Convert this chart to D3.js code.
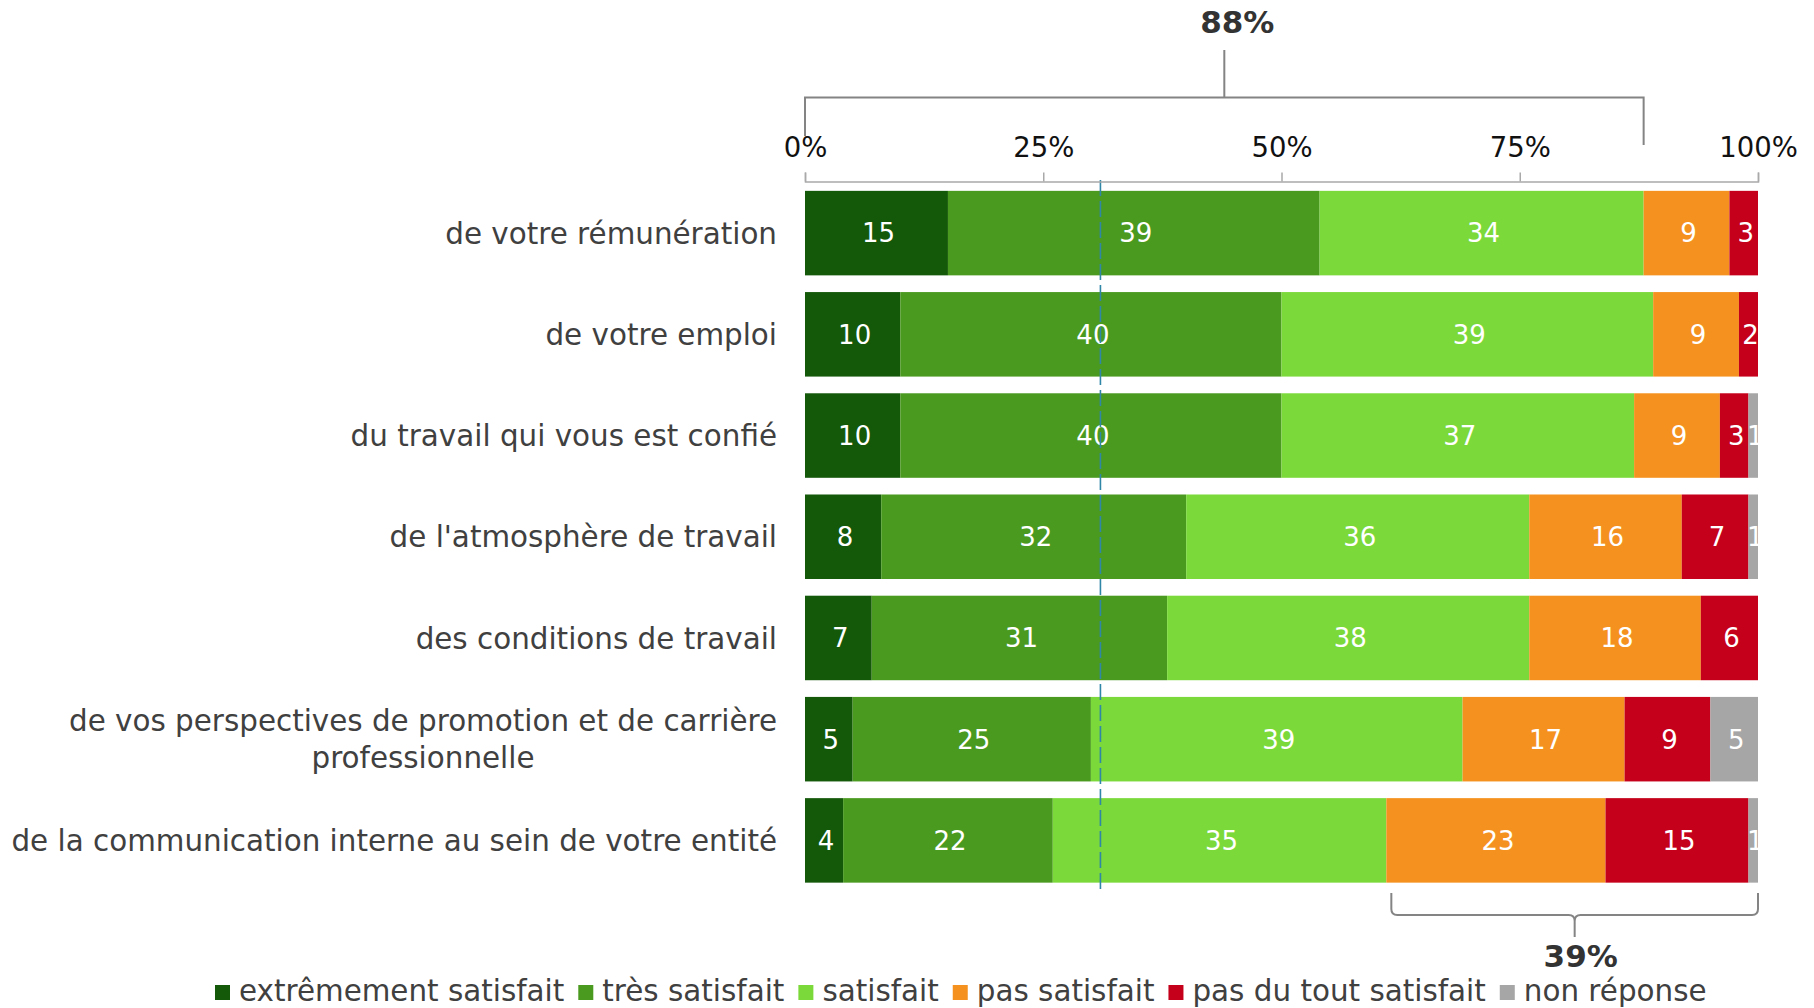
<!DOCTYPE html>
<meta charset="utf-8">
<head>
	<title>Satisfaction</title>
</head>
<style>
	body { margin: 0; background: #fff; }
	text { font-family: "DejaVu Sans", Verdana, sans-serif; }
</style>
<body>
	<svg width="1814" height="1008"></svg>
	<script src="https://cdnjs.cloudflare.com/ajax/libs/d3/7.8.5/d3.min.js"></script>
	<script>
		// row labels (a "\n" splits a label over two lines)
		var categories = [
			"de votre rémunération",
			"de votre emploi",
			"du travail qui vous est confié",
			"de l'atmosphère de travail",
			"des conditions de travail",
			"de vos perspectives de promotion et de carrière\nprofessionnelle",
			"de la communication interne au sein de votre entité"
		];

		var seriesNames = ["extrêmement satisfait", "très satisfait", "satisfait",
			"pas satisfait", "pas du tout satisfait", "non réponse"];

		// values, in %, one array per answer
		var extremement = [15, 10, 10, 8, 7, 5, 4];
		var tres = [39, 40, 40, 32, 31, 25, 22];
		var satisfait = [34, 39, 37, 36, 38, 39, 35];
		var pasSatisfait = [9, 9, 9, 16, 18, 17, 23];
		var pasDuTout = [3, 2, 3, 7, 6, 9, 15];
		var nonReponse = [0, 0, 1, 1, 0, 5, 1];

		var tickValues = [0, 25, 50, 75, 100];
		var referenceValue = 31;   // dashed vertical line
		var topBracket = {from: 0, to: 88, label: "88%"};
		var bottomBracket = {from: 61, to: 100, label: "39%"};

		var colors = ["#14580a", "#4a9a20", "#7bd93a", "#f5921f", "#c5001a", "#a6a6a6"];

		var svg = d3.select("svg");

		var series = [extremement, tres, satisfait, pasSatisfait, pasDuTout, nonReponse];

		var rows = categories.map(function(c, i) {
			var r = {cat: c};
			seriesNames.forEach(function(s, j) { r[s] = series[j][i]; });
			return r;
		});

		var stacked = d3.stack().keys(seriesNames)(rows);

		var x = d3.scaleLinear().domain([0, 100]).range([805, 1758]);
		var y = d3.scaleBand().domain(categories).range([182.5, 891])
			.paddingInner(0.165).paddingOuter(0.0825);
		var color = d3.scaleOrdinal().domain(seriesNames).range(colors);

		// clip for value labels that run past 100%
		svg.append("defs").append("clipPath").attr("id", "plot")
			.append("rect").attr("x", x(0)).attr("y", 0)
			.attr("width", x(100) - x(0)).attr("height", 1008);

		// bars
		var layers = svg.append("g").selectAll("g")
			.data(stacked)
			.enter().append("g")
			.attr("fill", function(d) { return color(d.key); });

		layers.selectAll("rect")
			.data(function(d) { return d; })
			.enter().append("rect")
			.attr("x", function(d) { return x(d[0]); })
			.attr("y", function(d) { return y(d.data.cat); })
			.attr("width", function(d) { return x(d[1]) - x(d[0]); })
			.attr("height", y.bandwidth());

		// value labels
		var labels = svg.append("g").attr("clip-path", "url(#plot)");
		stacked.forEach(function(layer) {
			layer.forEach(function(d) {
				var v = d[1] - d[0];
				if (v <= 0) return;
				labels.append("text")
					.attr("x", (x(d[0]) + x(d[1])) / 2 + 2)
					.attr("y", y(d.data.cat) + y.bandwidth() / 2)
					.attr("dy", "0.36em")
					.attr("text-anchor", "middle")
					.attr("fill", "#fff")
					.style("font-size", "26px")
					.text(v);
			});
		});

		// dashed reference line
		svg.append("line")
			.attr("x1", x(referenceValue)).attr("x2", x(referenceValue))
			.attr("y1", 180).attr("y2", 893)
			.attr("stroke", "#2f86a6")
			.attr("stroke-width", 1.6)
			.attr("stroke-dasharray", "16,5");

		// axis on top
		var xAxis = d3.axisTop(x)
			.tickValues(tickValues)
			.tickSize(9)
			.tickPadding(16)
			.tickFormat(function(d) { return d + "%"; });

		var ax = svg.append("g")
			.attr("transform", "translate(0,181.5)")
			.call(xAxis);
		ax.select(".domain").attr("stroke", "#a9a9a9").attr("stroke-width", 1.5);
		ax.selectAll(".tick line").attr("stroke", "#a9a9a9").attr("stroke-width", 1.5);
		ax.selectAll(".tick text")
			.attr("fill", "#111")
			.style("font-size", "27.5px")
			.style("font-family", "'DejaVu Sans', Verdana, sans-serif");

		// category labels, right aligned; two line labels centred as a block
		var labelRight = 777;
		categories.forEach(function(c) {
			var lines = c.split("\n");
			var cy = y(c) + y.bandwidth() / 2;
			var t = svg.append("text")
				.attr("fill", "#404040")
				.style("font-size", "29.4px");
			if (lines.length == 1) {
				t.attr("x", labelRight).attr("y", cy).attr("dy", "0.36em")
					.attr("text-anchor", "end").text(c);
			} else {
				t.attr("text-anchor", "middle");
				var spans = lines.map(function(l, i) {
					return t.append("tspan")
						.attr("y", cy + (i - (lines.length - 1) / 2) * 37)
						.attr("dy", "0.36em")
						.text(l);
				});
				var w = d3.max(spans, function(s) { return s.node().getComputedTextLength(); });
				spans.forEach(function(s) { s.attr("x", labelRight - w / 2); });
			}
		});

		// top bracket (square)
		var gray = "#848484";
		var tx0 = x(topBracket.from), tx1 = x(topBracket.to), tmid = (tx0 + tx1) / 2;
		svg.append("path")
			.attr("d", "M" + tx0 + ",136 V97.5 H" + tx1 + " V145 M" + tmid + ",97.5 V50")
			.attr("fill", "none").attr("stroke", gray).attr("stroke-width", 2);
		svg.append("text")
			.attr("x", tmid + 13).attr("y", 33)
			.attr("text-anchor", "middle")
			.attr("fill", "#333")
			.style("font-size", "31px").style("font-weight", "bold")
			.text(topBracket.label);

		// bottom bracket (curly)
		var bx0 = x(bottomBracket.from) + 5, bx1 = x(bottomBracket.to), bmid = (bx0 + bx1) / 2;
		var by0 = 893, by1 = 915, r = 6;
		svg.append("path")
			.attr("d",
				"M" + bx0 + "," + by0 + " V" + (by1 - r) +
				" Q" + bx0 + "," + by1 + " " + (bx0 + r) + "," + by1 +
				" H" + (bmid - r) +
				" Q" + bmid + "," + by1 + " " + bmid + "," + (by1 + r) +
				" V937 M" + bmid + "," + (by1 + r) +
				" Q" + bmid + "," + by1 + " " + (bmid + r) + "," + by1 +
				" H" + (bx1 - r) +
				" Q" + bx1 + "," + by1 + " " + bx1 + "," + (by1 - r) +
				" V" + by0)
			.attr("fill", "none").attr("stroke", gray).attr("stroke-width", 2);
		svg.append("text")
			.attr("x", bmid + 6).attr("y", 967)
			.attr("text-anchor", "middle")
			.attr("fill", "#333")
			.style("font-size", "31px").style("font-weight", "bold")
			.text(bottomBracket.label);

		// legend
		var lx = 215;
		seriesNames.forEach(function(s) {
			svg.append("rect")
				.attr("x", lx).attr("y", 985)
				.attr("width", 15).attr("height", 15)
				.attr("fill", color(s));
			var t = svg.append("text")
				.attr("x", lx + 24).attr("y", 1001)
				.attr("fill", "#404040")
				.style("font-size", "29.4px")
				.text(s);
			lx += 24 + t.node().getComputedTextLength() + 14;
		});
	</script>
</body>
</html>
